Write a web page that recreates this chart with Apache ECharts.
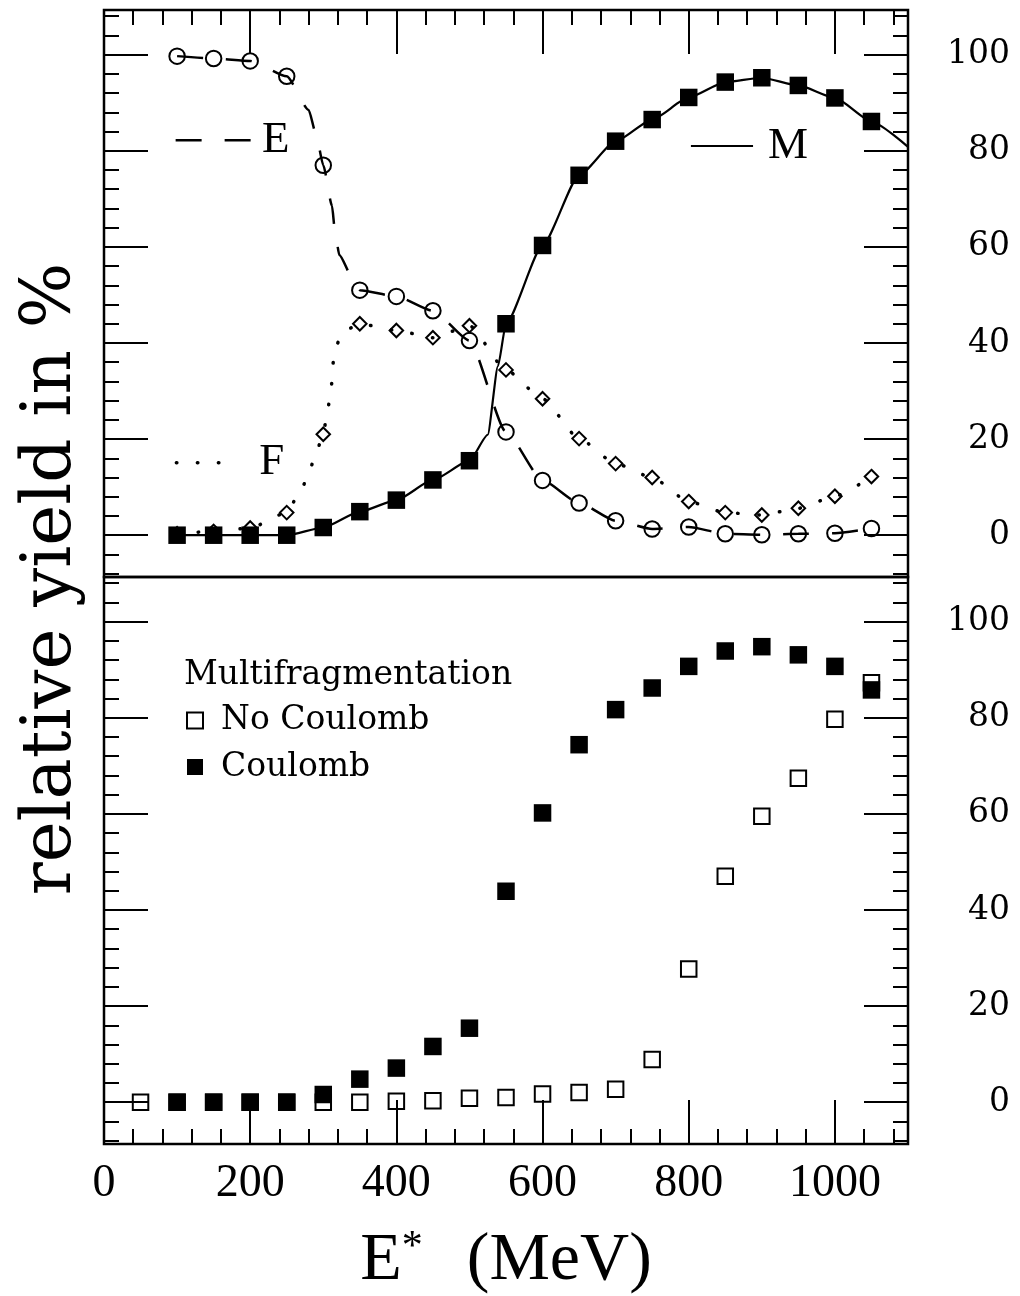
<!DOCTYPE html>
<html>
<head>
<meta charset="utf-8">
<script src="https://cdn.jsdelivr.net/npm/echarts@6/dist/echarts.min.js"></script>
<style>
  html, body { margin: 0; padding: 0; background: #fff; }
  #chart { width: 1020px; height: 1296px; }
</style>
</head>
<body>
<div id="chart"></div>
<script>
// Excitation energies (MeV) of the calculated points
const energy = [100, 150, 200, 250, 300, 350, 400, 450, 500, 550, 600, 650, 700, 750, 800, 850, 900, 950, 1000, 1050];

// Upper panel: relative yields (%) of the three decay channels
const yieldM = [0, 0, 0, 0, 1.6, 4.9, 7.3, 11.5, 15.5, 44.0, 60.3, 74.9, 82.0, 86.5, 91.1, 94.3, 95.2, 93.6, 91.0, 86.1];
const yieldE = [99.7, 99.2, 98.7, 95.5, 77.0, 51.0, 49.7, 46.7, 40.5, 21.5, 11.4, 6.7, 3.0, 1.3, 1.7, 0.3, 0.1, 0.3, 0.4, 1.4];
const yieldF = [0.3, 0.8, 1.5, 4.7, 21.0, 44.0, 42.6, 41.1, 43.6, 34.4, 28.4, 20.1, 14.9, 12.0, 7.0, 4.7, 4.2, 5.6, 8.1, 12.2];

// Upper panel: guide curves [E*, yield]
const curveM = [[100, 0], [150, 0], [200, 0], [250, 0], [300, 1.6], [350, 4.9], [400, 7.3], [450, 11.5], [500, 15.5],
  [525, 20.9], [539, 35.2], [550, 44.0], [600, 60.3], [650, 74.9], [700, 82.0], [750, 86.5], [800, 91.1], [850, 94.3],
  [900, 95.2], [950, 93.6], [1000, 91.0], [1050, 86.1], [1100, 80.8]];
const curveE = [[100, 99.7], [150, 99.2], [200, 98.7], [250, 95.5], [280, 88.5], [290, 83.5], [300, 77.0], [312, 68.5],
  [316, 63.2], [322, 58.3], [340, 53.5], [350, 51.0], [400, 49.7], [450, 46.7], [500, 40.5], [550, 21.5], [600, 11.4],
  [650, 6.7], [700, 3.0], [750, 1.3], [800, 1.7], [850, 0.3], [900, 0.1], [950, 0.3], [1000, 0.4], [1050, 1.4]];
const curveF = [[100, 0.3], [150, 0.8], [200, 1.5], [250, 4.7], [271, 9.8], [282, 13.9], [292, 18.0], [300, 21.0],
  [306, 26.2], [311, 30.4], [312.5, 34.6], [315.5, 38.7], [327, 42.4], [350, 44.0], [400, 42.6], [450, 41.1], [500, 43.6],
  [550, 34.4], [600, 28.4], [650, 20.1], [700, 14.9], [750, 12.0], [800, 7.0], [850, 4.7], [900, 4.2], [950, 5.6],
  [1000, 8.1], [1050, 12.2]];

// Lower panel: multifragmentation yields (%) with and without Coulomb
const energyNoCoulomb = [50, 100, 150, 200, 250, 300, 350, 400, 450, 500, 550, 600, 650, 700, 750, 800, 850, 900, 950, 1000, 1050];
const noCoulomb = [0, 0, 0, 0, 0, 0, 0, 0.2, 0.3, 0.8, 1.0, 1.7, 2.0, 2.7, 8.9, 27.7, 47.0, 59.5, 67.4, 79.7, 87.3];
const coulomb = [0, 0, 0, 0, 1.6, 4.8, 7.1, 11.6, 15.4, 43.9, 60.2, 74.4, 81.7, 86.2, 90.7, 93.9, 94.8, 93.1, 90.7, 85.8];

// Tick labels
const xTickLabels = [0, 200, 400, 600, 800, 1000];
const yTickLabels = [0, 20, 40, 60, 80, 100];

function steps(from, to, step) {
  const out = [];
  for (let v = from; v <= to + 1e-9; v += step) out.push(v);
  return out;
}
const xMinorTicks = steps(0, 1080, 40);
const yMinorTicks = steps(-8, 108, 4);

const X_MIN = 0, X_MAX = 1100;
const Y_MIN = -8.7, Y_MAX = 109.3;
const INK = '#000';
const SERIF_WIDE = 'DejaVu Serif';
const SERIF_NARROW = 'Liberation Serif';

function pairs(xs, ys) { return xs.map((x, i) => [x, ys[i]]); }

function tickAxis(kind, gridIndex, position, values, length, label) {
  const ax = {
    type: 'value', gridIndex, position,
    min: kind === 'x' ? X_MIN : Y_MIN,
    max: kind === 'x' ? X_MAX : Y_MAX,
    axisLine: { show: false, onZero: false },
    splitLine: { show: false },
    axisTick: { show: true, inside: true, length, customValues: values, lineStyle: { color: INK, width: 2 } },
    axisLabel: { show: false }
  };
  if (label) ax.axisLabel = Object.assign({ show: true, color: INK, formatter: v => String(v) }, label);
  return ax;
}

const xLabelStyle = { customValues: xTickLabels, fontFamily: SERIF_NARROW, fontSize: 46, margin: 17 };
const yLabelStyle = { customValues: yTickLabels, fontFamily: SERIF_WIDE, fontSize: 33, margin: 102, align: 'right', padding: [8, 0, 0, 0] };

const xAxes = [
  tickAxis('x', 0, 'top', xTickLabels, 44),
  tickAxis('x', 0, 'top', xMinorTicks, 15),
  Object.assign(tickAxis('x', 1, 'bottom', xTickLabels, 44, xLabelStyle), {
    name: '{e|E}{s|*}{g| }(MeV)',
    nameLocation: 'middle',
    nameGap: 83,
    nameTextStyle: {
      fontFamily: SERIF_NARROW, fontSize: 68, color: INK,
      rich: {
        e: { fontFamily: SERIF_NARROW, fontSize: 68, color: INK },
        s: { fontFamily: SERIF_NARROW, fontSize: 42, color: INK, verticalAlign: 'top' },
        g: { fontFamily: SERIF_NARROW, fontSize: 68, width: 44 }
      }
    }
  }),
  tickAxis('x', 1, 'bottom', xMinorTicks, 15)
];

const yAxes = [
  tickAxis('y', 0, 'left', yTickLabels, 44),
  tickAxis('y', 0, 'left', yMinorTicks, 15),
  tickAxis('y', 0, 'right', yTickLabels, 44, yLabelStyle),
  tickAxis('y', 0, 'right', yMinorTicks, 15),
  tickAxis('y', 1, 'left', yTickLabels, 44),
  tickAxis('y', 1, 'left', yMinorTicks, 15),
  tickAxis('y', 1, 'right', yTickLabels, 44, yLabelStyle),
  tickAxis('y', 1, 'right', yMinorTicks, 15)
];

const keyText = { fontFamily: SERIF_NARROW, fontSize: 45, color: INK };
const hollow = { color: 'rgba(0,0,0,0)', borderColor: INK, borderWidth: 2, opacity: 1 };
const filled = { color: INK, opacity: 1 };
const dashE = { color: INK, width: 2.5, type: [26, 23] };
const dotF = { color: INK, width: 3.5, type: [0.5, 20.5], cap: 'round' };
const solidM = { color: INK, width: 2.2 };

const topAxes = { xAxisIndex: 0, yAxisIndex: 0 };
const bottomAxes = { xAxisIndex: 2, yAxisIndex: 4 };

const option = {
  animation: false,
  backgroundColor: '#fff',
  grid: [
    { left: 104, top: 10, width: 804, height: 567, show: true, borderColor: INK, borderWidth: 2.5, backgroundColor: 'transparent' },
    { left: 104, top: 577, width: 804, height: 568, show: true, borderColor: INK, borderWidth: 2.5, backgroundColor: 'transparent' }
  ],
  xAxis: xAxes,
  yAxis: yAxes,
  title: {
    text: 'Multifragmentation',
    left: 184, top: 659, padding: 0,
    textStyle: { fontFamily: SERIF_WIDE, fontSize: 33, fontWeight: 'normal', color: INK }
  },
  legend: {
    data: ['No Coulomb', 'Coulomb'],
    orient: 'vertical',
    left: 186, top: 704, padding: 0,
    itemWidth: 16, itemHeight: 16, itemGap: 13.5,
    selectedMode: false,
    textStyle: { fontFamily: SERIF_WIDE, fontSize: 33, color: INK, padding: [0, 0, 0, 13] }
  },
  graphic: [{
    type: 'text',
    x: 52, y: 579,
    rotation: Math.PI / 2,
    style: { text: 'relative yield in %', font: '69px "DejaVu Serif"', fill: INK, align: 'center', verticalAlign: 'middle' }
  }],
  series: [
    // guide curves
    Object.assign({ type: 'line', data: curveM, symbol: 'none', smooth: 0.2, smoothMonotone: 'x', lineStyle: solidM, z: 2 }, topAxes),
    Object.assign({ type: 'line', data: curveE, symbol: 'none', smooth: 0.2, smoothMonotone: 'x', lineStyle: dashE, z: 2 }, topAxes),
    Object.assign({ type: 'line', data: curveF, symbol: 'none', smooth: 0.2, smoothMonotone: 'x', lineStyle: dotF, z: 2 }, topAxes),
    // curve keys
    Object.assign({ type: 'line', data: [[98, 82.2], [204, 82.2]], symbol: 'none', lineStyle: dashE,
      endLabel: Object.assign({ show: true, formatter: 'E', distance: 9 }, keyText) }, topAxes),
    Object.assign({ type: 'line', data: [[99, 15.1], [185, 15.1]], symbol: 'none', lineStyle: dotF,
      endLabel: Object.assign({ show: true, formatter: 'F', distance: 20 }, keyText) }, topAxes),
    Object.assign({ type: 'line', data: [[803, 81.0], [888, 81.0]], symbol: 'none', lineStyle: solidM,
      endLabel: Object.assign({ show: true, formatter: 'M', distance: 15 }, keyText) }, topAxes),
    // calculated points, upper panel
    Object.assign({ type: 'scatter', name: 'M', data: pairs(energy, yieldM), symbol: 'rect', symbolSize: 17.5,
      itemStyle: filled, z: 4 }, topAxes),
    Object.assign({ type: 'scatter', name: 'E', data: pairs(energy, yieldE), symbol: 'circle', symbolSize: 15.5,
      itemStyle: hollow, z: 3 }, topAxes),
    Object.assign({ type: 'scatter', name: 'F', data: pairs(energy, yieldF), symbol: 'diamond', symbolSize: 13.5,
      itemStyle: hollow, z: 3 }, topAxes),
    // lower panel
    Object.assign({ type: 'scatter', name: 'No Coulomb', data: pairs(energyNoCoulomb, noCoulomb), symbol: 'rect',
      symbolSize: 15.5, itemStyle: hollow, z: 3 }, bottomAxes),
    Object.assign({ type: 'scatter', name: 'Coulomb', data: pairs(energy, coulomb), symbol: 'rect',
      symbolSize: 17.5, itemStyle: filled, z: 4 }, bottomAxes)
  ]
};

const chart = echarts.init(document.getElementById('chart'), null, { renderer: 'canvas' });
chart.setOption(option);
</script>
</body>
</html>
